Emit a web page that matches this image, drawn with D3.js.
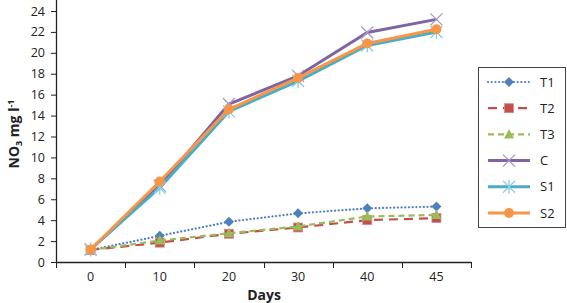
<!DOCTYPE html>
<html><head><meta charset="utf-8">
<script src="https://cdn.jsdelivr.net/npm/d3@7"></script>
<style>
body{margin:0;background:#fff;}
text{font-family:"Open Sans",sans-serif;}
</style></head>
<body><svg id="c" width="567" height="303"></svg>
<script>
const days = ["0","10","20","30","40","45"];
const yTicks = [0,2,4,6,8,10,12,14,16,18,20,22,24];
const seriesNames = ["T1","T2","T3","C","S1","S2"];
const T1 = [1.15,2.5,3.85,4.65,5.13,5.3];
const T2 = [1.15,1.85,2.7,3.3,4.0,4.2];
const T3 = [1.15,2.05,2.75,3.4,4.35,4.5];
const C  = [1.2,7.3,15.1,17.8,21.95,23.2];
const S1 = [1.2,7.1,14.4,17.3,20.7,22.0];
const S2 = [1.2,7.7,14.6,17.6,20.9,22.25];
const colors = ["#4F81BD","#C0504D","#9BBB59","#8064A2","#4BACC6","#F79646"];

const seriesValues = [T1,T2,T3,C,S1,S2];
const styles = [
  {w:2.2,dash:"0.1,3.6",cap:"round",marker:"diamond"},
  {w:2.2,dash:"9,6",cap:"butt",marker:"square"},
  {w:2.2,dash:"6,4",cap:"butt",marker:"triangle"},
  {w:3,dash:null,cap:"butt",marker:"x"},
  {w:3,dash:null,cap:"butt",marker:"star"},
  {w:3,dash:null,cap:"butt",marker:"circle"}
];

const svg = d3.select("#c");
const x = d3.scaleBand().domain(days).range([56,471]).padding(0);
const y = d3.scaleLinear().domain([0,24]).range([262,11]);
const cx = d => x(d)+x.bandwidth()/2;

// Y axis
const ya = svg.append("g").attr("transform","translate(56,0)")
  .call(d3.axisLeft(y).tickValues(yTicks).tickSize(5).tickPadding(6));
ya.select(".domain").remove();
ya.selectAll("text").attr("font-size",12.5).attr("fill","#222").style("font-family","'Open Sans',sans-serif");
ya.selectAll("line").attr("stroke","#222");
svg.append("line").attr("x1",56.5).attr("x2",56.5).attr("y1",0).attr("y2",262.5).attr("stroke","#222").attr("stroke-width",1.3);

// X axis
const xa = svg.append("g").attr("transform","translate(0,262)")
  .call(d3.axisBottom(x).tickSize(0).tickPadding(10));
xa.select(".domain").remove();
xa.selectAll("text").attr("font-size",12.5).attr("fill","#222").style("font-family","'Open Sans',sans-serif");
svg.append("line").attr("x1",56).attr("x2",471.5).attr("y1",262.5).attr("y2",262.5).attr("stroke","#222").attr("stroke-width",1.3);
const edges = days.map(d=>x(d)).concat([x.range()[1]]);
svg.selectAll(".xt").data(edges).enter().append("line")
  .attr("x1",d=>Math.round(d)+0.5).attr("x2",d=>Math.round(d)+0.5)
  .attr("y1",262).attr("y2",268).attr("stroke","#222");

svg.append("text").attr("x",264).attr("y",300).attr("text-anchor","middle")
  .attr("font-size",14).attr("font-weight","bold").attr("fill","#222").text("Days");

const yl = svg.append("text").attr("transform","translate(19,134) rotate(-90)")
  .attr("text-anchor","middle").attr("font-size",14).attr("font-weight","bold").attr("fill","#222");
yl.append("tspan").text("NO");
yl.append("tspan").attr("font-size",9).attr("dy",3).text("3");
yl.append("tspan").attr("dy",-3).text(" mg l");
yl.append("tspan").attr("font-size",9).attr("dy",-5).text("-1");

function drawMarker(g, type, px, py, color){
  if(type==="diamond"){
    g.append("path").attr("d",`M${px},${py-5}L${px+5},${py}L${px},${py+5}L${px-5},${py}Z`).attr("fill",color);
  } else if(type==="square"){
    g.append("rect").attr("x",px-4.5).attr("y",py-4.5).attr("width",9).attr("height",9).attr("fill",color).attr("stroke","#d88").attr("stroke-width",0.8);
  } else if(type==="triangle"){
    g.append("path").attr("d",`M${px},${py-5.5}L${px+5},${py+4}L${px-5},${py+4}Z`).attr("fill",color);
  } else if(type==="x"){
    g.append("path").attr("d",`M${px-6},${py-6}L${px+6},${py+6}M${px-6},${py+6}L${px+6},${py-6}`).attr("stroke","#a898c8").attr("stroke-width",1.3);
  } else if(type==="star"){
    g.append("path").attr("d",`M${px-6},${py-6}L${px+6},${py+6}M${px-6},${py+6}L${px+6},${py-6}M${px},${py-7}L${px},${py+7}`).attr("stroke","#8ccfe0").attr("stroke-width",1.3);
  } else if(type==="circle"){
    g.append("circle").attr("cx",px).attr("cy",py).attr("r",5).attr("fill",color);
  }
}

const line = d3.line().x((v,i)=>cx(days[i])).y(v=>y(v));
seriesNames.forEach((name,k)=>{
  const g = svg.append("g");
  const st = styles[k];
  g.append("path").attr("d",line(seriesValues[k])).attr("fill","none")
    .attr("stroke",colors[k]).attr("stroke-width",st.w)
    .attr("stroke-dasharray",st.dash).attr("stroke-linecap",st.cap).attr("stroke-linejoin","round");
  seriesValues[k].forEach((v,i)=>drawMarker(g,st.marker,cx(days[i]),y(v),colors[k]));
});

// Legend
const lg = svg.append("g");
lg.append("rect").attr("x",478.5).attr("y",67.5).attr("width",87).attr("height",160)
  .attr("fill","#fff").attr("stroke","#444").attr("stroke-width",1);
seriesNames.forEach((name,k)=>{
  const ly = 82 + k*26.2;
  const st = styles[k];
  lg.append("line").attr("x1",488).attr("x2",530).attr("y1",ly).attr("y2",ly)
    .attr("stroke",colors[k]).attr("stroke-width",st.w).attr("stroke-dasharray",st.dash).attr("stroke-linecap",st.cap);
  drawMarker(lg,st.marker,509,ly,colors[k]);
  lg.append("text").attr("x",540).attr("y",ly+4.5).attr("font-size",13).attr("fill","#222").text(name);
});
</script></body></html>
